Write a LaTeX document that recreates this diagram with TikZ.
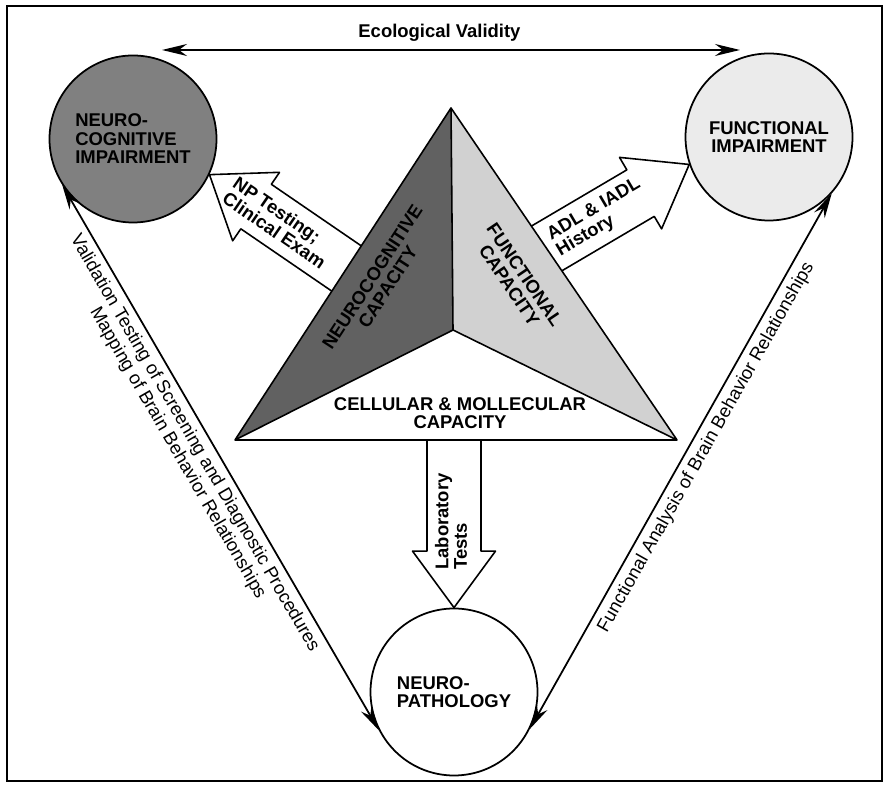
\documentclass[tikz,border=0pt]{standalone}
\usepackage{fontspec}
\setmainfont{Liberation Sans}
\usetikzlibrary{arrows.meta,calc}

\newcommand{\capsfont}{\bfseries\fontsize{10.5}{10.5}\selectfont}
\newcommand{\sidefont}{\fontsize{10.5}{11.2}\selectfont}

\begin{document}
\begin{tikzpicture}[
  ring/.style={circle, draw, line width=1pt, minimum size=3.34cm, inner sep=0pt, font=\capsfont},
  link/.style={line width=1pt, arrows={Stealth[length=5mm,width=2.4mm]-Stealth[length=5mm,width=2.4mm]}},
  edge/.style={line width=0.9pt, line join=round},
  armlabel/.style={font=\capsfont, align=left, inner sep=1pt},
  pics/fatarrow/.style={code={
    \draw[edge, fill=white] (0,0) -- (-1.13,0.83) -- (-1.13,0.54) -- (-3.8,0.54)
      -- (-3.8,-0.54) -- (-1.13,-0.54) -- (-1.13,-0.83) -- cycle;
  }}
]
\useasboundingbox (0,0) rectangle (17.82,15.8);
\draw[line width=1.2pt] (0.14,0.18) rectangle (17.64,15.68);

% the three impairments
\node[ring, fill=black!50, align=left] (ncog) at (2.66,13.02) {NEURO-\\COGNITIVE\\IMPAIRMENT};
\node[ring, fill=black!8, align=center] (fimp) at (15.38,13.06) {FUNCTIONAL\\IMPAIRMENT};
\node[ring, fill=white, align=left] (npath) at (9.08,1.96) {NEURO-\\PATHOLOGY};

% ecological validity
\coordinate (ecoL) at (3.24,14.8);
\coordinate (ecoR) at (14.8,14.8);
\draw[link] (ecoL) -- node[above, pos=0.48, font=\capsfont, yshift=1pt] (eco) {Ecological Validity} (ecoR);

% sides
\draw[link] (ncog.213) -- node[sloped, below, pos=0.46, align=center, font=\sidefont] (valid)
  {Validation Testing of Screening and Diagnostic Procedures\\Mapping of Brain Behavior Relationships} (npath.207);
\draw[link] (npath.-26) -- node[sloped, below, pos=0.54, font=\sidefont] (funcan)
  {Functional Analysis of Brain Behavior Relationships} (fimp.-42);

% block arrows out of the pyramid
\pic[rotate=145.6] at (ncog.-25) {fatarrow};
\pic[rotate=30.5] at (fimp.199.5) {fatarrow};
\pic[rotate=-90] at (npath.north) {fatarrow};

% pyramid
\coordinate (apex) at (9.02,13.64);
\coordinate (mid) at (9.06,9.2);
\coordinate (bl) at (4.7,7.0);
\coordinate (br) at (13.54,7.0);
\fill[black!62] (apex) -- (mid) -- (bl) -- cycle;
\fill[black!18] (apex) -- (br) -- (mid) -- cycle;
\fill[white] (bl) -- (mid) -- (br) -- cycle;
\draw[edge] (apex) -- (bl) -- (br) -- cycle (apex) -- (mid) (bl) -- (mid) -- (br);

\node[font=\capsfont, rotate=57, align=center] (ncap) at (7.6,10.16) {NEUROCOGNITIVE\\CAPACITY};
\node[font=\capsfont, rotate=-56, align=center] (fcap) at (10.34,10.2) {FUNCTIONAL\\CAPACITY};
\node[font=\capsfont, align=center] (ccap) at (9.2,7.54) {CELLULAR \& MOLLECULAR\\CAPACITY};

% arrow labels
\node[armlabel, rotate=-34.4] (nplab) at ($(ncog.-25)+(-34.4:1.7)$) {NP Testing;\\Clinical Exam};
\node[armlabel, rotate=30.5] (adllab) at ($(fimp.199.5)+(210.5:2.1)$) {ADL \& IADL\\History};
\node[armlabel, rotate=90] (lablab) at ($(npath.north)+(-0.06,1.72)$) {Laboratory\\Tests};
\end{tikzpicture}
\end{document}
